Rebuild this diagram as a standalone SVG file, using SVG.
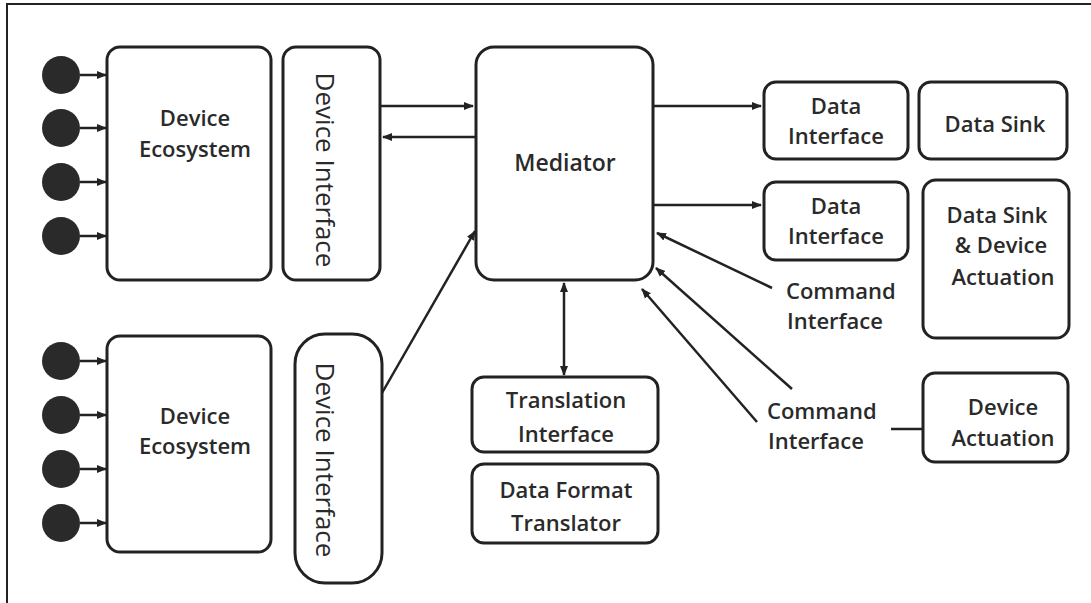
<svg xmlns="http://www.w3.org/2000/svg" width="1091" height="603" viewBox="0 0 1091 603">
<defs>
<marker id="ah" markerWidth="10" markerHeight="10" refX="9" refY="5" orient="auto-start-reverse" markerUnits="userSpaceOnUse">
<path d="M0,1 L10,5 L0,9 Z" fill="#222"/>
</marker>
</defs>
<style>
.box{fill:#fff;stroke:#222;stroke-width:3}
.t{font-family:"Open Sans","Noto Sans",sans-serif;font-size:22px;font-weight:600;fill:#2a2a2a;text-anchor:middle}
.tl{font-family:"Open Sans","Noto Sans",sans-serif;font-size:22px;font-weight:600;fill:#2a2a2a}
.v{font-size:26px;font-weight:500}
.c{fill:#2a2a2a}
.ln{stroke:#222;stroke-width:2.5;fill:none}
</style>
<rect width="1091" height="603" fill="#fff"/>
<path d="M7,603 V4 H1091" fill="none" stroke="#222" stroke-width="2"/>

<g id="sensors-top">
<circle class="c" cx="61" cy="75" r="19"/>
<circle class="c" cx="61" cy="128" r="19"/>
<circle class="c" cx="61" cy="182" r="19"/>
<circle class="c" cx="61" cy="236" r="19"/>
</g>
<g id="sensors-bottom">
<circle class="c" cx="61" cy="361" r="19"/>
<circle class="c" cx="61" cy="415" r="19"/>
<circle class="c" cx="61" cy="469" r="19"/>
<circle class="c" cx="61" cy="523" r="19"/>
</g>

<g id="device-ecosystem-1">
<rect class="box" x="107" y="47" width="164" height="233" rx="13"/>
<text class="t" x="195" y="126">Device</text>
<text class="t" x="195" y="157">Ecosystem</text>
</g>
<g id="device-interface-1">
<rect class="box" x="283" y="47" width="97" height="233" rx="13"/>
<text class="t v" transform="translate(316,170) rotate(90)">Device Interface</text>
</g>
<g id="device-ecosystem-2">
<rect class="box" x="107" y="336" width="164" height="216" rx="13"/>
<text class="t" x="195" y="424">Device</text>
<text class="t" x="195" y="454">Ecosystem</text>
</g>
<g id="device-interface-2">
<rect class="box" x="295" y="334" width="87" height="249" rx="30"/>
<text class="t v" transform="translate(316,460) rotate(90)">Device Interface</text>
</g>
<g id="mediator">
<rect class="box" x="476" y="47" width="177" height="233" rx="18"/>
<text class="t" x="565" y="171" style="font-size:23px">Mediator</text>
</g>
<g id="translation-interface">
<rect class="box" x="472" y="377" width="186" height="75" rx="12"/>
<text class="t" x="566" y="408">Translation</text>
<text class="t" x="566" y="442">Interface</text>
</g>
<g id="data-format-translator">
<rect class="box" x="472" y="464" width="186" height="79" rx="12"/>
<text class="t" x="566" y="498">Data Format</text>
<text class="t" x="566" y="531">Translator</text>
</g>
<g id="data-interface-1">
<rect class="box" x="764" y="82" width="144" height="77" rx="12"/>
<text class="t" x="836" y="114">Data</text>
<text class="t" x="836" y="144">Interface</text>
</g>
<g id="data-sink">
<rect class="box" x="919" y="82" width="148" height="77" rx="12"/>
<text class="t" x="995" y="132">Data Sink</text>
</g>
<g id="data-interface-2">
<rect class="box" x="764" y="182" width="144" height="78" rx="12"/>
<text class="t" x="836" y="214">Data</text>
<text class="t" x="836" y="244">Interface</text>
</g>
<g id="data-sink-actuation">
<rect class="box" x="923" y="180" width="146" height="158" rx="13"/>
<text class="t" x="997" y="223">Data Sink</text>
<text class="t" x="1001" y="253">&amp; Device</text>
<text class="t" x="1003" y="285">Actuation</text>
</g>
<g id="command-interface-1">
<text class="tl" x="786" y="299">Command</text>
<text class="tl" x="787" y="329">Interface</text>
</g>
<g id="command-interface-2">
<text class="tl" x="767" y="419">Command</text>
<text class="tl" x="768" y="449">Interface</text>
</g>
<g id="device-actuation">
<rect class="box" x="923" y="373" width="145" height="89" rx="12"/>
<text class="t" x="1003" y="415">Device</text>
<text class="t" x="1003" y="446">Actuation</text>
</g>

<g id="connectors">
<line class="ln" x1="80" y1="75" x2="106" y2="75" marker-end="url(#ah)"/>
<line class="ln" x1="80" y1="128" x2="106" y2="128" marker-end="url(#ah)"/>
<line class="ln" x1="80" y1="182" x2="106" y2="182" marker-end="url(#ah)"/>
<line class="ln" x1="80" y1="236" x2="106" y2="236" marker-end="url(#ah)"/>
<line class="ln" x1="80" y1="361" x2="106" y2="361" marker-end="url(#ah)"/>
<line class="ln" x1="80" y1="415" x2="106" y2="415" marker-end="url(#ah)"/>
<line class="ln" x1="80" y1="469" x2="106" y2="469" marker-end="url(#ah)"/>
<line class="ln" x1="80" y1="523" x2="106" y2="523" marker-end="url(#ah)"/>
<line class="ln" x1="381" y1="106" x2="473" y2="106" marker-end="url(#ah)"/>
<line class="ln" x1="475" y1="137" x2="383" y2="137" marker-end="url(#ah)"/>
<line class="ln" x1="382" y1="393" x2="475" y2="231" marker-end="url(#ah)"/>
<line class="ln" x1="654" y1="106" x2="761" y2="106" marker-end="url(#ah)"/>
<line class="ln" x1="654" y1="205" x2="761" y2="205" marker-end="url(#ah)"/>
<line class="ln" x1="772" y1="288" x2="657" y2="233" marker-end="url(#ah)"/>
<line class="ln" x1="792" y1="389" x2="656" y2="268" marker-end="url(#ah)"/>
<line class="ln" x1="757" y1="422" x2="642" y2="289" marker-end="url(#ah)"/>
<line class="ln" x1="564" y1="283" x2="564" y2="375" marker-start="url(#ah)" marker-end="url(#ah)"/>
<line class="ln" x1="891" y1="429" x2="923" y2="429"/>
</g>
</svg>
